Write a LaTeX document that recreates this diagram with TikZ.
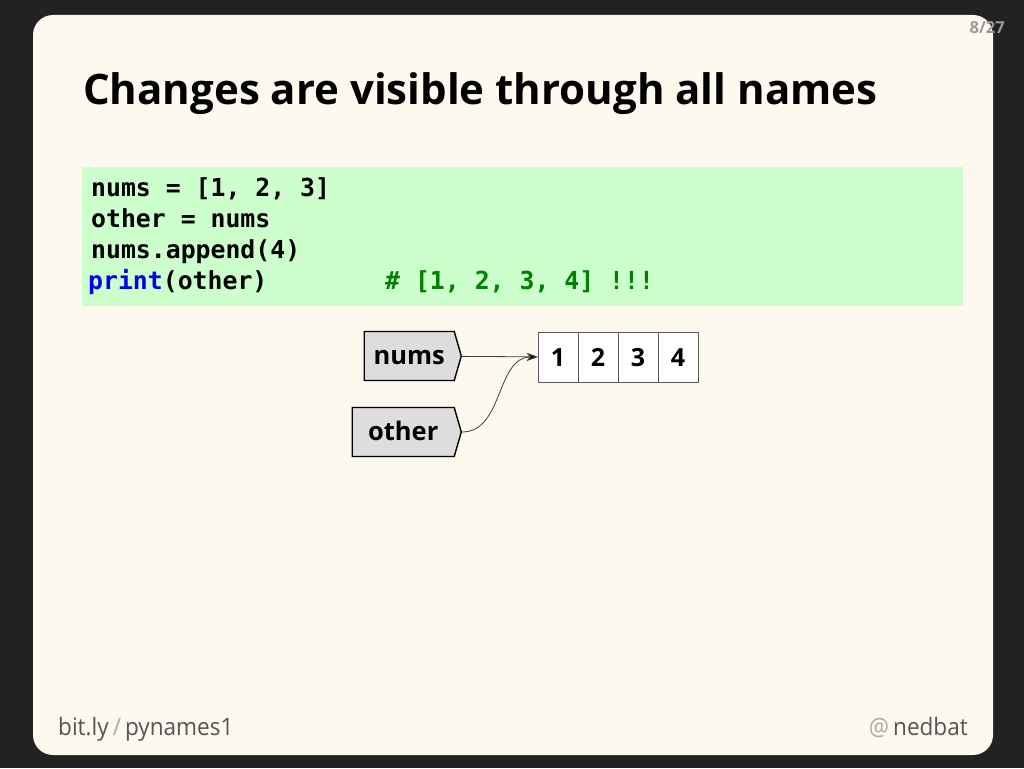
\documentclass[tikz,border=0pt]{standalone}
\usepackage{fontspec}
\setmainfont{Open Sans}
\newfontfamily\codefont{DejaVu Sans Mono}
\newfontfamily\footfont[FakeStretch=0.94]{Open Sans}
\usetikzlibrary{graphs}
\usetikzlibrary{shapes.symbols}
\usetikzlibrary{arrows.meta}

\definecolor{page}{HTML}{222222}
\definecolor{cream}{HTML}{FDF9EF}
\definecolor{codebg}{HTML}{CCFFCC}
\definecolor{namebg}{HTML}{DDDDDD}
\definecolor{kwblue}{HTML}{0000EE}
\definecolor{cmtgreen}{HTML}{008000}
\definecolor{footgray}{HTML}{555555}
\definecolor{lightgray}{HTML}{AAAAAA}

\begin{document}
\begin{tikzpicture}[x=1pt,y=-1pt,
  namebox/.style={shape=signal, signal to=east, signal pointer angle=148,
    draw=black, line width=1.4pt, fill=namebg, minimum height=49pt,
    inner sep=0pt, anchor=east, text height=17pt, text depth=0pt,
    font=\bfseries\fontsize{25.5}{28}\selectfont},
  cell/.style={draw=black!65, line width=0.8pt, fill=white,
    minimum width=40pt, minimum height=50pt, inner sep=0pt,
    text height=18pt, text depth=0pt,
    font=\bfseries\fontsize{25}{28}\selectfont},
  codeline/.style={anchor=base west, inner sep=0pt,
    font=\codefont\bfseries\fontsize{24.8}{31}\selectfont},
  foottext/.style={anchor=base west, inner sep=0pt, text=footgray,
    font=\footfont\fontsize{24}{28}\selectfont},
  refarrow/.style={-{Stealth[length=11pt,width=8pt,fill=black]}, draw=black!75, line width=0.8pt}]
  \useasboundingbox (0,0) rectangle (1024,768);
  \fill[page] (0,0) rectangle (1024,768);
  \fill[cream, rounded corners=20pt] (33,15) rectangle (993,755);
  % title and page number
  \node (title) at (83,104) [anchor=base west, inner sep=0pt,
    font=\bfseries\fontsize{42}{50}\selectfont] {Changes are visible through all names};
  \node (pagenum) at (1005,34) [anchor=base east, inner sep=0pt, text=black!40,
    font=\bfseries\fontsize{16.5}{20}\selectfont] {8/27};
  % code
  \node (codebox) at (82,167) [anchor=north west, fill=codebg, inner sep=0pt,
    minimum width=881pt, minimum height=139pt] {};
  \node[codeline] (l1) at (91,196) {nums = [1, 2, 3]};
  \node[codeline] (l2) at (91,227) {other = nums};
  \node[codeline] (l3) at (91,258) {nums.append(4)};
  \node[codeline] (l4) at (88,289) {\textcolor{kwblue}{print}(other)};
  \node[codeline, text=cmtgreen] (cmt) at (385,289) {\# [1, 2, 3, 4] !!!};
  % names and list
  \node[namebox, minimum width=97pt] (nums) at (462,356) {nums};
  \node[namebox, minimum width=109pt] (other) at (462,432) {other};
  \node[cell] (c1) at (558,357) {1};
  \node[cell] (c2) at (598,357) {2};
  \node[cell] (c3) at (638,357) {3};
  \node[cell] (c4) at (678,357) {4};
  \graph[edges=refarrow]{(nums) -> (c1)};
  \graph[edges=refarrow]{(other) ->[out=0, in=180] (c1)};
  % footer
  \node[foottext] (site) at (58,735) {bit.ly\,\textcolor{lightgray}{/}\,pynames1};
  \node[foottext, anchor=base east] (handle) at (968,735) {\textcolor{lightgray}{@}\,nedbat};
\end{tikzpicture}
\end{document}
